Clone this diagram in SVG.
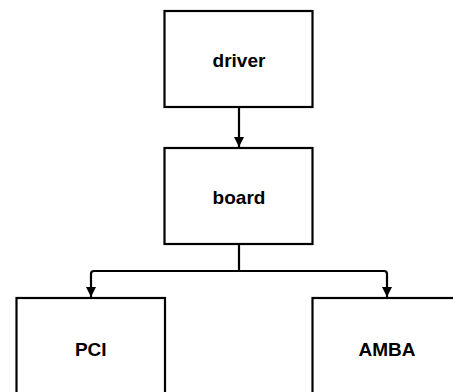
<svg xmlns="http://www.w3.org/2000/svg" width="453" height="392" viewBox="0 0 453 392">
<defs>
<style>
.box{fill:#fff;stroke:#000;stroke-width:2.2}
.lbl{font-family:"Liberation Sans",Arial,sans-serif;font-size:19px;font-weight:bold;text-anchor:middle;fill:#000}
.wire{fill:none;stroke:#000;stroke-width:2.2}
</style>
<marker id="arr" markerUnits="userSpaceOnUse" markerWidth="11" markerHeight="11" refX="10" refY="5" orient="auto">
<path d="M0,0 L10,5 L0,10 z" fill="#000"/>
</marker>
</defs>
<rect width="453" height="392" fill="#fff"/>
<g id="connectors">
<path class="wire" d="M239,107 V147" marker-end="url(#arr)"/>
<path class="wire" d="M239,244 V271"/>
<path class="wire" d="M239,271 H94 Q91,271 91,274 V297" marker-end="url(#arr)"/>
<path class="wire" d="M239,271 H384 Q387,271 387,274 V297" marker-end="url(#arr)"/>
</g>
<g id="driver">
<rect class="box" x="164.5" y="11" width="148" height="96"/>
<text class="lbl" x="239" y="66.5">driver</text>
</g>
<g id="board">
<rect class="box" x="164.5" y="148" width="148" height="96"/>
<text class="lbl" x="239" y="204">board</text>
</g>
<g id="pci">
<rect class="box" x="16.5" y="298" width="148.5" height="120"/>
<text class="lbl" x="90.75" y="356">PCI</text>
</g>
<g id="amba">
<rect class="box" x="312.5" y="298" width="148" height="120"/>
<text class="lbl" x="387" y="356">AMBA</text>
</g>
</svg>
